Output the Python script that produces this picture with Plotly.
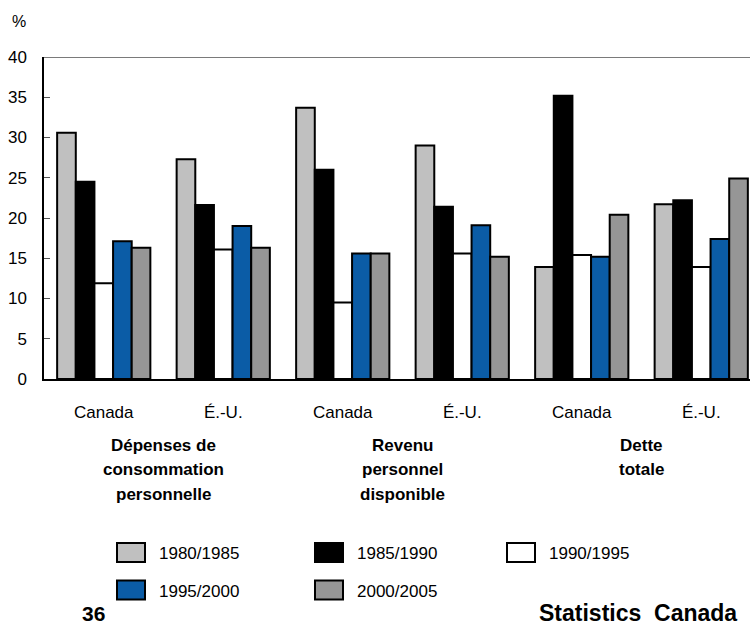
import plotly.graph_objects as go

# ---- data -------------------------------------------------------------
regions = ["Canada", "É.-U.", "Canada", "É.-U.", "Canada", "É.-U."]
periods = ["1980/1985", "1985/1990", "1990/1995", "1995/2000", "2000/2005"]

growth_1980_1985 = [30.6, 27.3, 33.7, 29.0, 13.9, 21.7]
growth_1985_1990 = [24.5, 21.6, 26.0, 21.4, 35.2, 22.2]
growth_1990_1995 = [11.9, 16.1, 9.5, 15.6, 15.4, 13.9]
growth_1995_2000 = [17.1, 19.0, 15.6, 19.1, 15.2, 17.4]
growth_2000_2005 = [16.3, 16.3, 15.6, 15.2, 20.4, 24.9]

indicator_lines = [
    ["Dépenses de", "consommation", "personnelle"],
    ["Revenu", "personnel", "disponible"],
    ["Dette", "totale"],
]
y_ticks = [0, 5, 10, 15, 20, 25, 30, 35, 40]

# ---- styling ----------------------------------------------------------
series = [growth_1980_1985, growth_1985_1990, growth_1990_1995,
          growth_1995_2000, growth_2000_2005]
fills = ["#C0C0C0", "#000000", "#FFFFFF", "#0B5CA6", "#969696"]
FONT = "Liberation Sans, Arial, sans-serif"

W, H = 750, 625
L, T, R = 44, 57, 0
PLOT_BOTTOM = 379
B = H - PLOT_BOTTOM
PW = W - L - R
PH = PLOT_BOTTOM - T


def px_x(px):
    return (px - L) / PW


def px_y(py):
    return (PLOT_BOTTOM - py) / PH


x_pos = list(range(len(regions)))

fig = go.Figure()
for name, vals, col in zip(periods, series, fills):
    fig.add_trace(go.Bar(
        x=x_pos, y=vals, name=name,
        marker=dict(color=col, line=dict(color="#000000", width=2)),
        showlegend=False,
    ))

annotations = []
shapes = []

# indicator labels under each pair of groups
for k, lines in enumerate(indicator_lines):
    for j, line in enumerate(lines):
        annotations.append(dict(
            x=2 * k + 0.5, xref="x", y=px_y(445 + 24.5 * j), yref="paper",
            text=f"<b>{line}</b>", showarrow=False,
            font=dict(family=FONT, size=17, color="#000000"),
            xanchor="center", yanchor="middle",
        ))

# legend swatches and labels
legend_cols = [117, 315, 507]
legend_rows = [552.5, 590]
for i, (name, col) in enumerate(zip(periods, fills)):
    cx = legend_cols[i % 3]
    cy = legend_rows[i // 3]
    shapes.append(dict(
        type="rect", xref="paper", yref="paper",
        x0=px_x(cx), x1=px_x(cx + 28), y0=px_y(cy - 9.5), y1=px_y(cy + 9.5),
        fillcolor=col, line=dict(color="#000000", width=2),
    ))
    annotations.append(dict(
        x=px_x(cx + 40), xref="paper", y=px_y(cy + 1), yref="paper",
        text=name, showarrow=False, xanchor="left", yanchor="middle",
        font=dict(family=FONT, size=17, color="#000000"),
    ))

# top frame line at 40
shapes.append(dict(
    type="line", xref="paper", yref="y", x0=0, x1=1, y0=40, y1=40,
    line=dict(color="#7a7a7a", width=2), layer="below",
))

# unit label and page footer
annotations.append(dict(
    x=px_x(19), xref="paper", y=px_y(21), yref="paper", text="%",
    showarrow=False, font=dict(family=FONT, size=16, color="#000000"),
    xanchor="center", yanchor="middle",
))
annotations.append(dict(
    x=px_x(93), xref="paper", y=px_y(613), yref="paper", text="<b>36</b>",
    showarrow=False, font=dict(family=FONT, size=21, color="#000000"),
    xanchor="center", yanchor="middle",
))
annotations.append(dict(
    x=px_x(739), xref="paper", y=px_y(613), yref="paper",
    text="<b>Statistics\u00a0\u00a0Canada</b>",
    showarrow=False, font=dict(family=FONT, size=23, color="#000000"),
    xanchor="right", yanchor="middle",
))

fig.update_layout(
    width=W, height=H,
    margin=dict(l=L, r=R, t=T, b=B, pad=0),
    paper_bgcolor="#FFFFFF", plot_bgcolor="#FFFFFF",
    barmode="group", bargap=0.22, bargroupgap=0,
    font=dict(family=FONT, size=17, color="#000000"),
    annotations=annotations, shapes=shapes,
    showlegend=False,
)
fig.update_xaxes(
    tickmode="array", tickvals=x_pos, ticktext=regions,
    range=[-0.5, 5.408], showgrid=False, zeroline=False,
    showline=True, linecolor="#000000", linewidth=2,
    ticks="", ticklabelstandoff=17,
    tickfont=dict(family=FONT, size=17, color="#000000"),
)
fig.update_yaxes(
    range=[0, 40], tickmode="array", tickvals=y_ticks,
    showgrid=False, zeroline=False,
    showline=True, linecolor="#000000", linewidth=1.5,
    ticks="inside", ticklen=6, tickwidth=1, tickcolor="#555555",
    ticklabelstandoff=12,
    tickfont=dict(family=FONT, size=17, color="#000000"),
)

fig.write_html("out.html")
